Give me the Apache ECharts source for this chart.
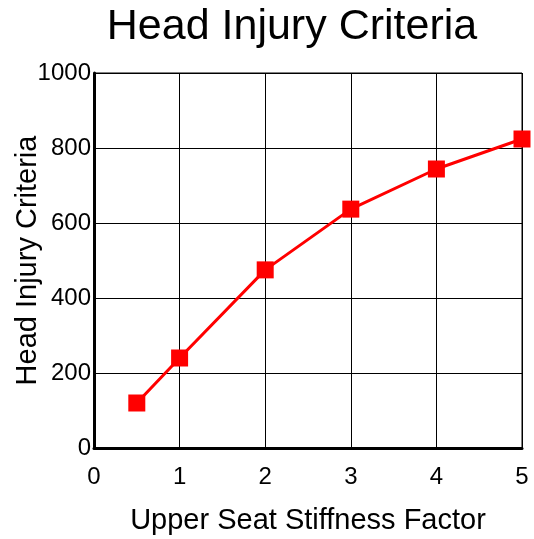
<!DOCTYPE html>
<html>
<head>
<meta charset="utf-8">
<script src="https://cdn.jsdelivr.net/npm/echarts@6/dist/echarts.min.js"></script>
<style>
  html, body { margin: 0; padding: 0; background: #fff; }
  #chart { width: 534px; height: 539px; }
</style>
</head>
<body>
<div id="chart"></div>
<script>
// stiffness factor vs HIC
var stiffness = [0.5, 1, 2, 3, 4, 5];
var hicValues = [120, 240, 475, 637, 744, 824];

var chart = echarts.init(document.getElementById("chart"));
var font = "'Liberation Sans', Arial, sans-serif";

chart.setOption({
  animation: false,
  title: {
    text: "Head Injury Criteria",
    left: 287,
    textAlign: "center",
    top: 1,
    textStyle: { fontFamily: font, fontSize: 43, fontWeight: "normal", color: "#000" }
  },
  grid: {
    left: 94, right: 12, top: 73, bottom: 91,
    outerBoundsMode: "none", containLabel: false,
    show: true, borderColor: "#000", borderWidth: 1
  },
  xAxis: {
    type: "value",
    min: 0, max: 5, interval: 1,
    name: "Upper Seat Stiffness Factor",
    nameLocation: "middle",
    nameMoveOverlap: false,
    nameGap: 58,
    nameTextStyle: { fontFamily: font, fontSize: 29, color: "#000" },
    axisLine: { show: true, lineStyle: { color: "#000", width: 3 } },
    axisTick: { show: false },
    axisLabel: { fontFamily: font, fontSize: 24, color: "#000", margin: 17 },
    splitLine: { show: true, lineStyle: { color: "#000", width: 1 } }
  },
  yAxis: {
    type: "value",
    min: 0, max: 1000, interval: 200,
    name: "Head Injury Criteria",
    nameLocation: "middle",
    nameMoveOverlap: false,
    nameGap: 52,
    nameTextStyle: { fontFamily: font, fontSize: 29, color: "#000" },
    axisLine: { show: true, lineStyle: { color: "#000", width: 3 } },
    axisTick: { show: false },
    axisLabel: {
      fontFamily: font, fontSize: 24, color: "#000", margin: 3,
      padding: [7, 0, 0, 0],
      formatter: function (v) { return String(v); }
    },
    splitLine: { show: true, lineStyle: { color: "#000", width: 1 } }
  },
  series: [{
    type: "line",
    data: stiffness.map(function (x, i) { return [x, hicValues[i]]; }),
    symbol: "rect",
    symbolSize: 17,
    itemStyle: { color: "#ff0000" },
    lineStyle: { color: "#ff0000", width: 3 }
  }]
});
</script>
</body>
</html>
